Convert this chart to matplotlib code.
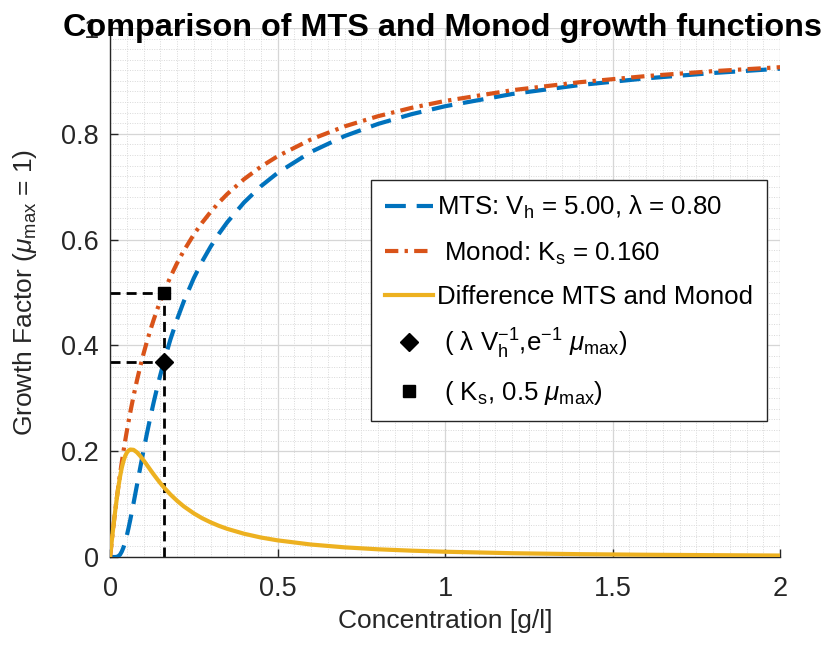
import matplotlib
matplotlib.use("Agg")
import matplotlib.pyplot as plt
from matplotlib.ticker import MultipleLocator

plt.rcParams["font.family"] = ["Liberation Sans", "DejaVu Sans"]
plt.rcParams["mathtext.fontset"] = "custom"
plt.rcParams["mathtext.rm"] = "Liberation Sans"
plt.rcParams["mathtext.it"] = "Liberation Sans:italic"
plt.rcParams["mathtext.default"] = "regular"
TXT = "#262626"

# values
conc = [0, 0.005, 0.01, 0.015, 0.02, 0.025, 0.03, 0.035, 0.04, 0.045, 0.05, 0.055, 0.06, 0.07,
        0.08, 0.09, 0.10, 0.11, 0.12, 0.13, 0.14, 0.15, 0.16, 0.18, 0.20, 0.22, 0.25, 0.275,
        0.30, 0.325, 0.35, 0.40, 0.45, 0.50, 0.60, 0.70, 0.80, 0.90, 1.0, 1.2, 1.4, 1.6, 1.8, 2.0]
mts = [0, 0, 0, 0, 0.0003, 0.0017, 0.0048, 0.0104, 0.0183, 0.0286, 0.0408, 0.0545, 0.0695, 0.1017,
       0.1353, 0.1690, 0.2019, 0.2335, 0.2636, 0.2921, 0.3189, 0.3442, 0.3679, 0.4111, 0.4493,
       0.4832, 0.5273, 0.5589, 0.5866, 0.6112, 0.6331, 0.6703, 0.7008, 0.7261, 0.7659, 0.7957,
       0.8187, 0.8371, 0.8521, 0.8752, 0.8920, 0.9048, 0.9149, 0.9231]
monod = [0, 0.0303, 0.0588, 0.0857, 0.1111, 0.1351, 0.1579, 0.1795, 0.2000, 0.2195, 0.2381,
         0.2558, 0.2727, 0.3043, 0.3333, 0.3600, 0.3846, 0.4074, 0.4286, 0.4483, 0.4667, 0.4839,
         0.5000, 0.5294, 0.5556, 0.5789, 0.6098, 0.6322, 0.6522, 0.6701, 0.6863, 0.7143, 0.7377,
         0.7576, 0.7895, 0.8140, 0.8333, 0.8491, 0.8621, 0.8824, 0.8974, 0.9091, 0.9184, 0.9259]
diff = [0, 0.0303, 0.0588, 0.0857, 0.1108, 0.1335, 0.1531, 0.1691, 0.1817, 0.1909, 0.1973,
        0.2013, 0.2032, 0.2026, 0.1980, 0.1910, 0.1827, 0.1739, 0.1650, 0.1562, 0.1478, 0.1397,
        0.1321, 0.1183, 0.1063, 0.0957, 0.0825, 0.0733, 0.0656, 0.0589, 0.0532, 0.0440, 0.0369,
        0.0315, 0.0236, 0.0183, 0.0146, 0.0120, 0.0100, 0.0072, 0.0054, 0.0043, 0.0035, 0.0028]
Ks = 0.16
pt_diamond = (0.16, 0.368)
pt_square = (0.16, 0.5)
xticks = [0, 0.5, 1, 1.5, 2]
xlabels = ["0", "0.5", "1", "1.5", "2"]
yticks = [0, 0.2, 0.4, 0.6, 0.8, 1]
ylabels = ["0", "0.2", "0.4", "0.6", "0.8", "1"]

fig = plt.figure(figsize=(8.34, 6.45), dpi=100)
ax = fig.add_axes([0.132, 0.1364, 0.8034, 0.8202])

# guide lines
gl = dict(ls=(0, (3.6, 2.2)), color="black", lw=2, zorder=2)
ax.plot([0, pt_square[0]], [pt_square[1], pt_square[1]], **gl)
ax.plot([0, pt_diamond[0]], [pt_diamond[1], pt_diamond[1]], **gl)
ax.plot([Ks, Ks], [0, pt_square[1]], **gl)

ax.plot(conc, mts, ls=(0, (5, 2.6)), color="#0072BD", lw=3, zorder=3,
        label=r"MTS: V$_\mathrm{h}$ = 5.00, $\lambda$ = 0.80")
ax.plot(conc, monod, ls=(0, (3.2, 1.5, 0.8, 1.5)), color="#D95319", lw=3, zorder=3,
        label=r" Monod: K$_\mathrm{s}$ = 0.160")
ax.plot(conc, diff, ls="-", color="#EDB120", lw=3, zorder=3,
        label="Difference MTS and Monod")
ax.plot(*pt_diamond, ls="none", marker="D", ms=9, color="black", zorder=4,
        label=r" ( $\lambda$ V$_\mathrm{h}^{-1}$,e$^{-1}$ $\mathit{\mu}_\mathrm{max}$)")
ax.plot(*pt_square, ls="none", marker="s", ms=9, color="black", zorder=4,
        label=r" ( K$_\mathrm{s}$, 0.5 $\mathit{\mu}_\mathrm{max}$)")

ax.set_xlim(0, 2); ax.set_ylim(0, 1)
ax.set_xticks(xticks); ax.set_xticklabels(xlabels)
ax.set_yticks(yticks); ax.set_yticklabels(ylabels)
ax.xaxis.set_minor_locator(MultipleLocator(0.05))
ax.yaxis.set_minor_locator(MultipleLocator(0.02))
ax.grid(which="major", color="#d6d6d6", lw=0.9, ls="-")
ax.grid(which="minor", color="#d9d9d9", lw=0.7, ls=(0, (1, 1.5)))
ax.set_axisbelow(True)
ax.tick_params(which="major", direction="in", length=6, width=1, labelsize=19.5, colors=TXT)
ax.tick_params(axis="x", pad=14)
ax.tick_params(axis="y", pad=8)
ax.tick_params(which="minor", length=0)
for s in ["top", "right"]:
    ax.spines[s].set_visible(False)
for s in ["left", "bottom"]:
    ax.spines[s].set_color(TXT); ax.spines[s].set_linewidth(1)

ax.set_xlabel("Concentration [g/l]", fontsize=19, color=TXT, labelpad=5)
ax.set_ylabel(r"Growth Factor ($\mathit{\mu}_\mathrm{max}$ = 1)", fontsize=19, color=TXT, labelpad=16)
fig.text(0.530, 1 - 36 / 645, "Comparison of MTS and Monod growth functions",
         fontsize=23.3, fontweight="bold", ha="center", va="baseline")

leg = ax.legend(loc="upper left", bbox_to_anchor=(0.3896, 0.713), borderaxespad=0, fontsize=18.6,
                frameon=True, fancybox=False, edgecolor=TXT, framealpha=1, handlelength=1.85,
                handletextpad=0.15, borderpad=0.55, labelspacing=0.7)
leg.get_frame().set_linewidth(1)

fig.savefig("out.png", dpi=100, facecolor="white")
print("saved")
